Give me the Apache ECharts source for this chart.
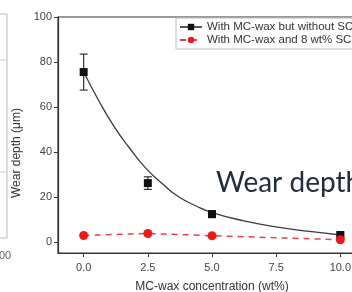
<!DOCTYPE html>
<html>
<head>
<meta charset="utf-8">
<script src="https://cdn.jsdelivr.net/npm/echarts@6/dist/echarts.min.js"></script>
<style>
html, body { margin: 0; padding: 0; background: #fff; }
#chart { width: 352px; height: 292px; }
</style>
</head>
<body>
<div id="chart"></div>
<script>
// wax concentration (wt%)
const concentrations = [0, 2.5, 5, 10]
const withoutScf = [75.5, 26.1, 12.3, 3]
const withoutScfErr = [8, 2.8, 1.5, 0.8]
const withScf = [2.8, 3.7, 2.7, 0.9]
// fitted curve
const fitX = [0, 0.6, 1.2, 1.8, 2.4, 3.1, 3.7, 4.4, 5, 6.2, 7.5, 8.8, 10]
const fitY = [75.5, 62.5, 51, 41.5, 33, 25.5, 20, 15.8, 13, 9.4, 6.6, 4.6, 3]
const xTicks = [0, 2.5, 5, 7.5, 10]
const yTicks = [0, 20, 40, 60, 80, 100]

const nameA = 'With MC-wax but without SCF'
const nameB = 'With MC-wax and 8 wt% SCF'
const font = 'Liberation Sans, Arial, sans-serif'

const chart = echarts.init(document.getElementById('chart'))

const axisCommon = {
	axisLine: { show: true, onZero: false, lineStyle: { color: '#333', width: 1.2 } },
	splitLine: { show: false },
}

chart.setOption({
	animation: false,
	grid: [
		{
			left: 58, top: 17, width: 308, height: 236,
			outerBoundsMode: 'none', containLabel: false,
			show: true, borderColor: '#333', borderWidth: 1.2,
		},
		// leftover of the neighbouring panel
		{
			left: -150, top: 14, width: 157, height: 224,
			outerBoundsMode: 'none', containLabel: false,
			show: true, borderColor: '#bbb', borderWidth: 1,
		},
	],
	xAxis: [
		{
			...axisCommon,
			type: 'value',
			min: -1,
			max: 11,
			name: 'MC-wax concentration (wt%)',
			nameLocation: 'middle',
			nameGap: 28,
			nameTextStyle: { fontFamily: font, fontSize: 12, color: '#333' },
			axisTick: { show: true, customValues: xTicks, length: 4, lineStyle: { color: '#333' } },
			axisLabel: {
				customValues: xTicks,
				margin: 9,
				fontFamily: font,
				fontSize: 11,
				color: '#444',
				formatter: (v) => v.toFixed(1),
			},
		},
		{
			gridIndex: 1,
			type: 'value',
			min: 0,
			max: 100,
			interval: 50,
			axisLine: { show: false },
			axisTick: { show: false },
			splitLine: { show: false },
			axisLabel: { margin: 12, padding: [0, 10, 0, 0], fontFamily: font, fontSize: 11, color: '#666' },
		},
	],
	yAxis: [
		{
			...axisCommon,
			type: 'value',
			min: -5,
			max: 100,
			name: 'Wear depth (\u03bcm)',
			nameLocation: 'middle',
			nameGap: 31,
			nameTextStyle: { fontFamily: font, fontSize: 12, color: '#333', padding: [0, 36, 0, 0] },
			axisTick: { show: true, customValues: yTicks, length: 4, lineStyle: { color: '#333' } },
			axisLabel: { customValues: yTicks, margin: 6, fontFamily: font, fontSize: 11, color: '#444' },
		},
		{
			gridIndex: 1,
			type: 'value',
			axisLine: { show: false },
			axisTick: { show: false },
			axisLabel: { show: false },
			splitLine: { show: false },
		},
	],
	legend: {
		orient: 'vertical',
		left: 176,
		top: 18,
		itemWidth: 22,
		itemHeight: 8,
		itemGap: 1,
		padding: [3, 4, 3, 3],
		borderColor: '#bbb',
		borderWidth: 1,
		textStyle: { fontFamily: font, fontSize: 11.5, color: '#333' },
		data: [
			{ name: nameA, lineStyle: { opacity: 1, width: 1.5, color: '#222' } },
			{ name: nameB },
		],
	},
	graphic: [
		{ type: 'line', shape: { x1: 0, y1: 60, x2: 7, y2: 60 }, style: { stroke: '#ccc', lineWidth: 1 } },
		{ type: 'line', shape: { x1: 0, y1: 172, x2: 7, y2: 172 }, style: { stroke: '#ccc', lineWidth: 1 } },
		{
			type: 'text',
			left: 216,
			top: 169,
			style: { text: 'Wear depth', fontFamily: 'Lato, sans-serif', fontSize: 28, fill: '#232c3a' },
			z: 100,
		},
	],
	series: [
		{
			name: 'fit',
			type: 'line',
			smooth: true,
			symbol: 'none',
			lineStyle: { color: '#3a3a3a', width: 1.3 },
			data: fitX.map((x, i) => [x, fitY[i]]),
			z: 2,
		},
		{
			name: nameA,
			type: 'line',
			symbol: 'rect',
			symbolSize: 8,
			itemStyle: { color: '#111' },
			lineStyle: { width: 0, opacity: 0 },
			data: concentrations.map((x, i) => [x, withoutScf[i]]),
			z: 4,
		},
		{
			name: 'error',
			type: 'custom',
			renderItem: function (params, api) {
				const x = api.value(0)
				const top = api.coord([x, api.value(2)])
				const bot = api.coord([x, api.value(1)])
				const w = 4
				const style = { stroke: '#333', lineWidth: 1.2 }
				return {
					type: 'group',
					children: [
						{ type: 'line', shape: { x1: top[0], y1: top[1], x2: bot[0], y2: bot[1] }, style },
						{ type: 'line', shape: { x1: top[0] - w, y1: top[1], x2: top[0] + w, y2: top[1] }, style },
						{ type: 'line', shape: { x1: bot[0] - w, y1: bot[1], x2: bot[0] + w, y2: bot[1] }, style },
					],
				}
			},
			data: concentrations.map((x, i) => [x, withoutScf[i] - withoutScfErr[i], withoutScf[i] + withoutScfErr[i]]),
			z: 3,
		},
		{
			name: nameB,
			type: 'line',
			symbol: 'circle',
			symbolSize: 9,
			itemStyle: { color: '#f01818' },
			lineStyle: { color: '#e8404c', width: 1.5, type: [6, 5] },
			data: concentrations.map((x, i) => [x, withScf[i]]),
			z: 5,
		},
	],
})
</script>
</body>
</html>
